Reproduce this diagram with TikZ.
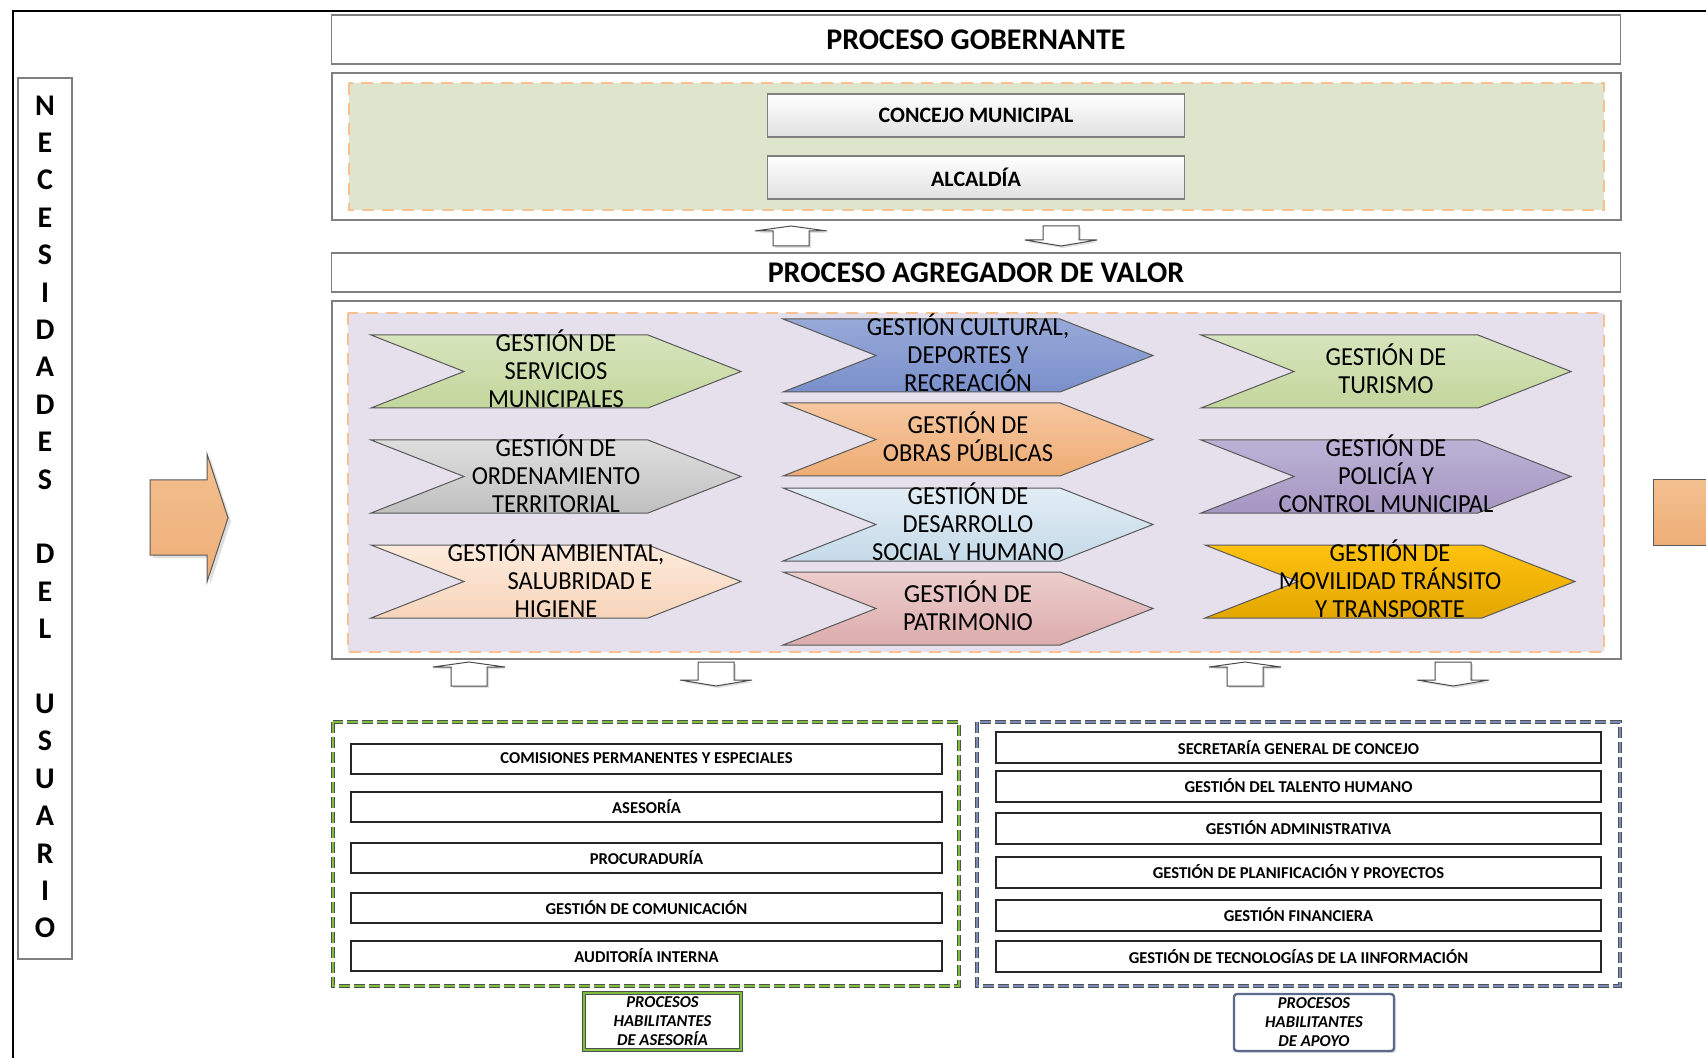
\documentclass[tikz,border=0pt]{standalone}
\usepackage{fontspec}
\setmainfont{Carlito}
\newfontfamily\condfont[FakeStretch=0.94]{Carlito}
\usetikzlibrary{shadows}
\definecolor{boxgray}{HTML}{7F7F7F}
\definecolor{govgreen}{HTML}{DDE5CC}
\definecolor{agrlila}{HTML}{E5E0EC}
\definecolor{dashorange}{HTML}{F9C08F}
\definecolor{frmgreen}{HTML}{7DBE3C}
\definecolor{frmblue}{HTML}{7A8BBE}
\definecolor{frmdark}{HTML}{505050}
\definecolor{frmslate}{HTML}{5B6A8C}
\definecolor{orA}{HTML}{F4C08F}\definecolor{orB}{HTML}{EDAE78}
\definecolor{servA}{HTML}{D7E4BD}\definecolor{servB}{HTML}{C3D69B}
\definecolor{ordA}{HTML}{DEDEDE}\definecolor{ordB}{HTML}{C0C0C0}
\definecolor{ambA}{HTML}{FDEBDC}\definecolor{ambB}{HTML}{F7D4BA}
\definecolor{culA}{HTML}{97A9D8}\definecolor{culB}{HTML}{7A90CB}
\definecolor{obrA}{HTML}{F6C7A0}\definecolor{obrB}{HTML}{EEAC74}
\definecolor{desA}{HTML}{E2EDF5}\definecolor{desB}{HTML}{C5DAE8}
\definecolor{patA}{HTML}{EDCDCD}\definecolor{patB}{HTML}{DCACAC}
\definecolor{polA}{HTML}{BCB2D6}\definecolor{polB}{HTML}{A596C2}
\definecolor{movA}{HTML}{FFC20E}\definecolor{movB}{HTML}{E3A600}
\tikzset{
  frame/.style={draw=boxgray, line width=0.7pt, fill=white},
  title/.style={frame, inner sep=0pt, minimum width=644.5pt, font=\bfseries\fontsize{15}{18}\selectfont},
  govbox/.style={draw=boxgray, line width=0.6pt, top color=white, bottom color=black!12, minimum width=208.5pt, minimum height=21.5pt, inner sep=0pt, font=\bfseries\fontsize{11}{13}\selectfont},
  chevron/.style={draw=black!65, line width=0.5pt},
  gtext/.style={align=center, inner sep=0pt, font=\condfont\fontsize{13}{14}\selectfont},
  habbox/.style={draw=black!85, line width=1pt, fill=white, inner sep=0pt, text depth=0pt, font=\bfseries\fontsize{8.3}{10}\selectfont},
  tag/.style={align=center, inner sep=0pt, fill=white, minimum height=28.5pt, font=\bfseries\itshape\fontsize{8.3}{9.5}\selectfont},
  blockarrow/.style={draw=black!70, line width=0.5pt, fill=white, drop shadow={shadow xshift=1pt, shadow yshift=-1pt, opacity=0.25}},
}
% chevron of the value chain: left x, top y, colour, name, text
\newcommand{\gestion}[5]{%
  \draw[chevron, top color=#3A, bottom color=#3B] (#1,#2) -- ++(277,0) -- ++(93,36.5) -- ++(-93,36.5) -- ++(-277,0) -- ++(93,-36.5) -- cycle;
  \node[gtext] (#4) at (#1+185,#2+33.5) {#5};}
% hollow block arrows: centre x, top y, bottom y
\newcommand{\upblock}[3]{%
  \draw[blockarrow] (#1-18,#3) -- (#1-18,#2+5) -- (#1-36,#2+5) -- (#1,#2) -- (#1+36,#2+5) -- (#1+18,#2+5) -- (#1+18,#3) -- cycle;}
\newcommand{\downblock}[3]{%
  \draw[blockarrow] (#1-18,#2) -- (#1-18,#3-6) -- (#1-36,#3-6) -- (#1,#3) -- (#1+36,#3-6) -- (#1+18,#3-6) -- (#1+18,#2) -- cycle;}

\begin{document}
\begin{tikzpicture}[x=0.5pt, y=-0.5pt]
    \clip (0,0) rectangle (1706,1058);
    \draw[line width=1.2pt] (13,1080) -- (13,11) -- (1730,11);
    % user needs
    \draw[draw=boxgray, line width=0.6pt] (18,78) rectangle (72,959);
    \node[align=center, inner sep=0pt, font=\bfseries\fontsize{15}{18.7}\selectfont] (usuario) at (45,516.8)
      {N\\E\\C\\E\\S\\I\\D\\A\\D\\E\\S\\ \\D\\E\\L\\ \\U\\S\\U\\A\\R\\I\\O};
    \draw[draw=black!65, line width=0.5pt, top color=orA, bottom color=orB, drop shadow={shadow xshift=1.5pt, shadow yshift=-1.5pt, opacity=0.25}]
      (150,480) -- (207,480) -- (207,454) -- (228,518) -- (207,582) -- (207,555) -- (150,555) -- cycle;
    \draw[draw=black!65, line width=0.5pt, top color=orA, bottom color=orB] (1653,480) rectangle (1730,545);

    % governing process
    \node[title, minimum height=24.5pt] (gob) at (976,39.5) {PROCESO GOBERNANTE};
    \draw[frame] (332,73) rectangle (1621,220);
    \draw[fill=govgreen, draw=dashorange, line width=0.75pt, dash pattern=on 6pt off 4pt] (349,83) rectangle (1604,210);
    \node[govbox] (concejo) at (976,115.5) {CONCEJO MUNICIPAL};
    \node[govbox] (alcaldia) at (976,177.5) {ALCALDÍA};
    \upblock{791}{226}{246}
    \downblock{1061}{226}{246}

    % value chain
    \node[title, minimum height=19.5pt] (agr) at (976,272.5) {PROCESO AGREGADOR DE VALOR};
    \draw[frame] (332,301) rectangle (1621,659);
    \draw[fill=agrlila, draw=dashorange, line width=0.75pt, dash pattern=on 6pt off 4pt] (348,313) rectangle (1604,652);
    \gestion{371}{335}{serv}{servicios}{GESTIÓN DE\\SERVICIOS\\MUNICIPALES}
    \gestion{371}{440}{ord}{ordenamiento}{GESTIÓN DE\\ORDENAMIENTO\\TERRITORIAL}
    \gestion{371}{545}{amb}{ambiental}{GESTIÓN AMBIENTAL,\\\hspace*{24pt}SALUBRIDAD E\\HIGIENE}
    \gestion{783}{319}{cul}{cultural}{GESTIÓN CULTURAL,\\DEPORTES Y\\RECREACIÓN}
    \gestion{783}{403}{obr}{obras}{GESTIÓN DE\\OBRAS PÚBLICAS}
    \gestion{783}{488}{des}{desarrollo}{GESTIÓN DE\\DESARROLLO\\SOCIAL Y HUMANO}
    \gestion{783}{572}{pat}{patrimonio}{\rmfamily GESTIÓN DE\\PATRIMONIO}
    \gestion{1201}{335}{serv}{turismo}{GESTIÓN DE\\TURISMO}
    \gestion{1201}{440}{pol}{policia}{GESTIÓN DE\\POLICÍA Y\\CONTROL MUNICIPAL}
    \gestion{1205}{545}{mov}{movilidad}{GESTIÓN DE\\MOVILIDAD TRÁNSITO\\Y TRANSPORTE}
    \upblock{469}{662}{686}
    \downblock{716}{662}{686}
    \upblock{1245}{662}{686}
    \downblock{1453}{662}{686}

    % enabling processes: advice
    \draw[line width=2.2pt, frmdark, dash pattern=on 5.5pt off 2pt] (333,722) rectangle (959,986);
    \draw[line width=1.3pt, frmgreen, dash pattern=on 5.5pt off 2pt] (333,722) rectangle (959,986);
    \node[habbox, minimum width=295.5pt, minimum height=15pt] (comisiones) at (646.5,758.5) {COMISIONES PERMANENTES Y ESPECIALES};
    \node[habbox, minimum width=295.5pt, minimum height=15pt] (asesoria) at (646.5,807) {ASESORÍA};
    \node[habbox, minimum width=295.5pt, minimum height=15pt] (procuraduria) at (646.5,858) {PROCURADURÍA};
    \node[habbox, minimum width=295.5pt, minimum height=15pt] (comunicacion) at (646.5,907.5) {GESTIÓN DE COMUNICACIÓN};
    \node[habbox, minimum width=295.5pt, minimum height=15pt] (auditoria) at (646.5,956) {AUDITORÍA INTERNA};
    \node[tag, minimum width=78.5pt, draw=frmdark, line width=0.4pt, double=frmgreen, double distance=1.2pt] (tagasesoria) at (662.5,1021.5) {PROCESOS\\HABILITANTES\\DE ASESORÍA};

    % enabling processes: support
    \draw[line width=2.2pt, frmdark, dash pattern=on 5.5pt off 2pt] (977,722) rectangle (1620,986);
    \draw[line width=1.3pt, frmblue, dash pattern=on 5.5pt off 2pt] (977,722) rectangle (1620,986);
    \node[habbox, minimum width=302.5pt, minimum height=15.5pt] (secretaria) at (1298.5,747.5) {SECRETARÍA GENERAL DE CONCEJO};
    \node[habbox, minimum width=302.5pt, minimum height=15.5pt] (talento) at (1298.5,786) {GESTIÓN DEL TALENTO HUMANO};
    \node[habbox, minimum width=302.5pt, minimum height=15.5pt] (administrativa) at (1298.5,828) {GESTIÓN ADMINISTRATIVA};
    \node[habbox, minimum width=302.5pt, minimum height=15.5pt] (planificacion) at (1298.5,872) {GESTIÓN DE PLANIFICACIÓN Y PROYECTOS};
    \node[habbox, minimum width=302.5pt, minimum height=15.5pt] (financiera) at (1298.5,915) {GESTIÓN FINANCIERA};
    \node[habbox, minimum width=302.5pt, minimum height=15.5pt] (tecnologias) at (1298.5,956.5) {GESTIÓN DE TECNOLOGÍAS DE LA IINFORMACIÓN};
    \node[tag, minimum width=80pt, draw=frmslate, line width=1.2pt, rounded corners=1.5pt, drop shadow={shadow xshift=1pt, shadow yshift=-1pt, opacity=0.25}] (tagapoyo) at (1314,1022.5) {PROCESOS\\HABILITANTES\\DE APOYO};
\end{tikzpicture}
\end{document}
